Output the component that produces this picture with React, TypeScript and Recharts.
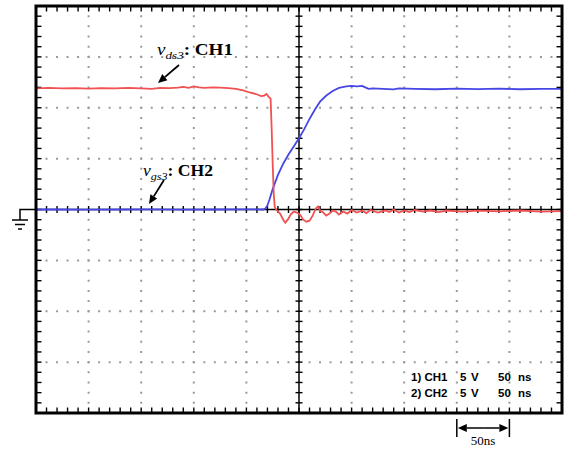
import { LineChart, Line, XAxis, YAxis, ReferenceLine } from "recharts"

// CH1 (vds3) trace, time in ns, volts
const ch1Time = [
  0, 12, 25, 38, 50, 62, 75, 88, 100, 110, 118, 127, 135, 140, 145, 150, 155, 160, 168, 175,
  183, 190, 197, 203, 209, 214, 217, 219, 221, 223, 224, 225, 226, 227, 229, 232, 235, 237, 240, 242,
  245, 248, 251, 254, 257, 260, 263, 266, 268, 270, 273, 276, 279, 282, 285, 288, 292, 296, 300, 305,
  310, 314, 318, 325, 332, 336, 340, 345, 350, 355, 360, 368, 375, 383, 390, 405, 420, 440, 460, 480, 500,
]
const ch1Volts = [
  11.9, 11.95, 11.9, 11.92, 11.88, 11.93, 11.9, 11.95, 11.9, 11.85, 11.95, 11.92, 11.98, 12.05, 11.95, 12.1, 12.0, 11.95, 12.0, 11.97,
  11.92, 11.85, 11.7, 11.5, 11.35, 11.15, 11.2, 11.35, 11.1, 10.9, 8, 4.5, 1.5, 0.2, -0.1, -0.4, -1.0, -1.3, -0.9, -0.5,
  -0.2, -0.3, -0.5, -1.0, -1.2, -1.1, -0.6, 0.1, 0.3, -0.1, -0.3, -0.6, -0.4, -0.1, -0.2, -0.5, -0.2, -0.4, -0.05, -0.3,
  -0.1, -0.35, -0.05, -0.3, -0.1, -0.25, 0.0, -0.3, -0.1, -0.25, -0.05, -0.2, -0.1, -0.25, -0.1, -0.2, -0.12, -0.18, -0.1, -0.2, -0.15,
]

// CH2 (vgs3) trace
const ch2Time = [
  0, 20, 50, 80, 110, 140, 170, 200, 216, 218, 220, 222, 225, 230, 235, 240, 245, 250, 255, 260,
  265, 270, 276, 282, 288, 295, 300, 305, 310, 313, 316, 320, 330, 340, 345, 360, 380, 400, 420, 440,
  460, 480, 500,
]
const ch2Volts = [
  0, 0.02, -0.02, 0, 0.02, -0.02, 0, 0.02, 0, 0.1, 0.4, 1.0, 2.0, 3.4, 4.5, 5.4, 6.2, 7.0, 7.9, 8.9,
  9.8, 10.6, 11.2, 11.65, 11.95, 12.1, 12.15, 12.1, 12.15, 12.0, 11.85, 11.9, 11.85, 11.8, 11.9, 11.85, 11.82, 11.88, 11.83, 11.87,
  11.82, 11.86, 11.85,
]

const gridTimes = [50, 100, 150, 200, 300, 350, 400, 450]
const gridVolts = [-15, -10, -5, 5, 10, 15]
const minorTimes = Array.from({ length: 49 }, (_, i) => (i + 1) * 10)
const minorVolts = Array.from({ length: 39 }, (_, i) => i - 19)

const W = 568
const H = 453
const M = { top: 6, right: 6, bottom: 40, left: 36 }
const PW = W - M.left - M.right
const PH = H - M.top - M.bottom
const V_PER_PX = 40 / PH
const NS_PER_PX = 500 / PW

const ch1 = ch1Time.map((t, i) => ({ t, v: ch1Volts[i] }))
const ch2 = ch2Time.map((t, i) => ({ t, v: ch2Volts[i] }))

const arrow = (x1: number, y1: number, x2: number, y2: number, w = 1.8) => {
  const a = Math.atan2(y2 - y1, x2 - x1)
  const len = 9
  const hw = 4
  const bx = x2 - len * Math.cos(a)
  const by = y2 - len * Math.sin(a)
  const px = -Math.sin(a) * hw
  const py = Math.cos(a) * hw
  return (
    <g>
      <line x1={x1} y1={y1} x2={bx} y2={by} stroke="#000" strokeWidth={w} />
      <polygon points={`${x2},${y2} ${bx + px},${by + py} ${bx - px},${by - py}`} fill="#000" />
    </g>
  )
}

export default function App() {
  const cy = M.top + PH / 2
  const divW = PW / 10
  const barL = M.left + 8 * divW
  const barR = barL + divW
  return (
    <div style={{ position: "absolute", left: 0, top: 0, width: W, height: H, background: "#fff" }}>
      <LineChart width={W} height={H} data={ch1} margin={M}>
        <XAxis type="number" dataKey="t" domain={[0, 500]} hide allowDataOverflow />
        <YAxis type="number" domain={[-20, 20]} hide allowDataOverflow />

        {gridTimes.map((t) => (
          <ReferenceLine key={"gx" + t} x={t} stroke="#9a9a9a" strokeWidth={2}
            strokeDasharray={`2 ${PH / 40 - 2}`} strokeDashoffset={1} />
        ))}
        {gridVolts.map((v) => (
          <ReferenceLine key={"gy" + v} y={v} stroke="#9a9a9a" strokeWidth={2}
            strokeDasharray={`2 ${PW / 50 - 2}`} strokeDashoffset={1} />
        ))}

        <ReferenceLine x={250} stroke="#000" strokeWidth={1.5} />
        <ReferenceLine y={0} stroke="#000" strokeWidth={1.5} />

        {minorTimes.map((t) => (
          <ReferenceLine key={"tt" + t} stroke="#000" strokeWidth={1.4}
            segment={[{ x: t, y: 20 }, { x: t, y: 20 - 5.5 * V_PER_PX }]} />
        ))}
        {minorTimes.map((t) => (
          <ReferenceLine key={"tb" + t} stroke="#000" strokeWidth={1.4}
            segment={[{ x: t, y: -20 }, { x: t, y: -20 + 5.5 * V_PER_PX }]} />
        ))}
        {minorTimes.map((t) => (
          <ReferenceLine key={"tc" + t} stroke="#000" strokeWidth={1.4}
            segment={[{ x: t, y: -3.5 * V_PER_PX }, { x: t, y: 3.5 * V_PER_PX }]} />
        ))}
        {minorVolts.map((v) => (
          <ReferenceLine key={"vl" + v} stroke="#000" strokeWidth={1.4}
            segment={[{ x: 0, y: v }, { x: 5.5 * NS_PER_PX, y: v }]} />
        ))}
        {minorVolts.map((v) => (
          <ReferenceLine key={"vr" + v} stroke="#000" strokeWidth={1.4}
            segment={[{ x: 500, y: v }, { x: 500 - 5.5 * NS_PER_PX, y: v }]} />
        ))}
        {minorVolts.map((v) => (
          <ReferenceLine key={"vc" + v} stroke="#000" strokeWidth={1.4}
            segment={[{ x: 250 - 3.5 * NS_PER_PX, y: v }, { x: 250 + 3.5 * NS_PER_PX, y: v }]} />
        ))}

        <Line data={ch2} dataKey="v" type="linear" stroke="#4747e6" strokeWidth={1.8}
          dot={false} activeDot={false} isAnimationActive={false} />
        <Line data={ch1} dataKey="v" type="linear" stroke="#f05252" strokeWidth={1.8}
          dot={false} activeDot={false} isAnimationActive={false} />
      </LineChart>

      <svg width={W} height={H} style={{ position: "absolute", left: 0, top: 0, pointerEvents: "none" }}>
        <rect x={M.left} y={M.top} width={PW} height={PH} fill="none" stroke="#000" strokeWidth={3} />

        {/* ground marker */}
        <polyline points={`${M.left},${cy} 20,${cy} 20,220`} fill="none" stroke="#000" strokeWidth={1.5} />
        <line x1={12} y1={220} x2={28} y2={220} stroke="#000" strokeWidth={1.5} />
        <line x1={15} y1={224.5} x2={25} y2={224.5} stroke="#000" strokeWidth={1.5} />
        <line x1={18} y1={229} x2={22} y2={229} stroke="#000" strokeWidth={1.5} />

        {/* trace labels */}
        <text x={157} y={55} fontFamily="'Liberation Serif', serif" fontSize={16}
          textLength={76} lengthAdjust="spacingAndGlyphs">
          <tspan fontStyle="italic">v</tspan>
          <tspan fontStyle="italic" fontSize={11} dy={4}>ds3</tspan>
          <tspan fontWeight="bold" dy={-4}>: CH1</tspan>
        </text>
        {arrow(179, 65, 158, 83)}

        <text x={143} y={176} fontFamily="'Liberation Serif', serif" fontSize={16}
          textLength={70} lengthAdjust="spacingAndGlyphs">
          <tspan fontStyle="italic">v</tspan>
          <tspan fontStyle="italic" fontSize={11} dy={4}>gs3</tspan>
          <tspan fontWeight="bold" dy={-4}>: CH2</tspan>
        </text>
        {arrow(164, 180, 149, 204)}

        {/* channel settings */}
        <g fontFamily="'Liberation Sans', Arial, sans-serif" fontWeight="bold" fontSize={11.5} fill="#000">
          <text x={411} y={381}>1) CH1</text>
          <text x={460} y={381}>5</text>
          <text x={471} y={381}>V</text>
          <text x={498} y={381}>50</text>
          <text x={518} y={381}>ns</text>
          <text x={411} y={397}>2) CH2</text>
          <text x={460} y={397}>5</text>
          <text x={471} y={397}>V</text>
          <text x={498} y={397}>50</text>
          <text x={518} y={397}>ns</text>
        </g>

        {/* time scale bar */}
        <line x1={barL} y1={419} x2={barL} y2={437} stroke="#000" strokeWidth={1.5} />
        <line x1={barR} y1={419} x2={barR} y2={437} stroke="#000" strokeWidth={1.5} />
        {arrow((barL + barR) / 2, 428, barL + 1, 428, 1.5)}
        {arrow((barL + barR) / 2, 428, barR - 1, 428, 1.5)}
        <text x={(barL + barR) / 2} y={445} textAnchor="middle" fontFamily="'Liberation Serif', serif" fontSize={13}>50ns</text>
      </svg>
    </div>
  )
}
